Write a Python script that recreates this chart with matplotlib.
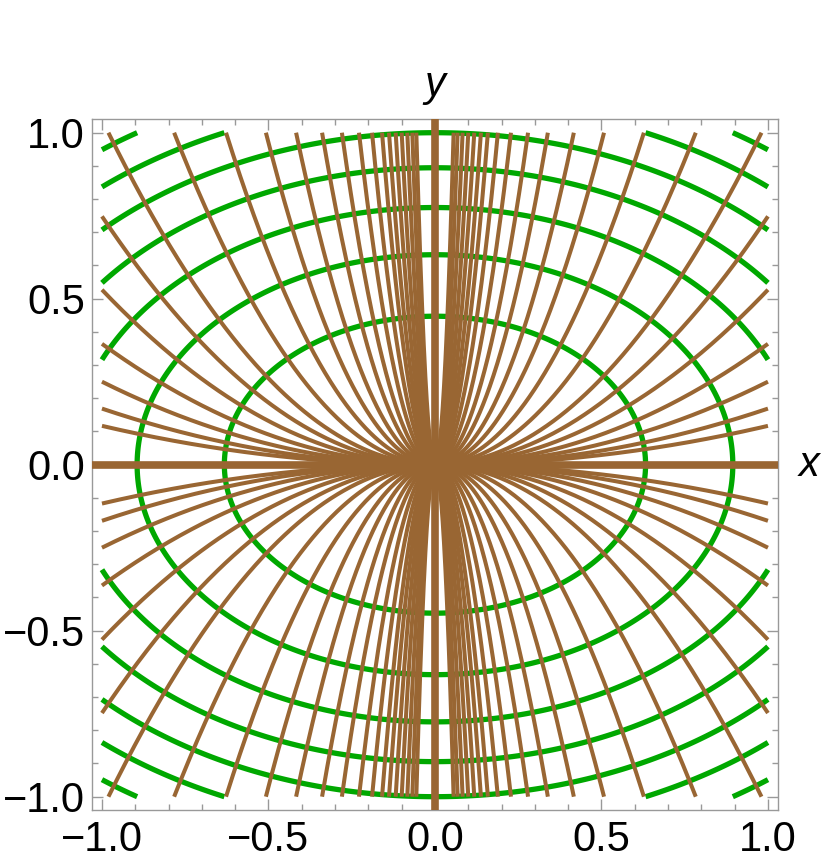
import numpy as np
import matplotlib.pyplot as plt
from matplotlib.ticker import MultipleLocator

# levels of x^2 + 2 y^2 (green ellipses)
ellipse_levels = [0.4, 0.8, 1.2, 1.6, 2.0, 2.4, 2.8]
# coefficients k of the brown trajectories y = k x^2
parabola_k = [0.117, 0.169, 0.25, 0.364, 0.527, 0.748, 1.04, 1.63, 2.54, 3.88,
              5.75, 8.7, 12.8, 19.2, 28.0, 39.6, 52.5, 71.8, 100.0, 145.0,
              216.0, 319.0]
xticks = [-1.0, -0.5, 0.0, 0.5, 1.0]
yticks = [-1.0, -0.5, 0.0, 0.5, 1.0]
ticklabels = ['\u22121.0', '\u22120.5', '0.0', '0.5', '1.0']

green = '#00a800'
brown = '#996633'

plt.rcParams['font.family'] = ['Liberation Sans', 'DejaVu Sans']

fig = plt.figure(figsize=(8.22, 8.66), dpi=100)
ax = fig.add_axes([0.1119, 0.0647, 0.8345, 0.7974])

# green ellipses
g = np.linspace(-1, 1, 801)
X, Y = np.meshgrid(g, g)
ax.contour(X, Y, X**2 + 2 * Y**2, levels=ellipse_levels,
           colors=green, linewidths=3.8, zorder=2)

# axes (k = 0 and k = infinity)
ax.axhline(0, color=brown, lw=5.5, zorder=3)
ax.axvline(0, color=brown, lw=5.5, zorder=3)

# brown parabolas y = +-k x^2
for k in parabola_k:
    xm = min(1.0, 1.0 / np.sqrt(k))
    xs = np.linspace(-xm, xm, 600)
    for s in (1, -1):
        ax.plot(xs, s * k * xs**2, color=brown, lw=2.9,
                solid_capstyle='butt', zorder=4)

ax.set_xlim(-1.03, 1.03)
ax.set_ylim(-1.04, 1.04)
ax.set_xticks(xticks)
ax.set_yticks(yticks)
ax.set_xticklabels(ticklabels)
ax.set_yticklabels(ticklabels)
ax.xaxis.set_minor_locator(MultipleLocator(0.1))
ax.yaxis.set_minor_locator(MultipleLocator(0.1))
ax.tick_params(which='both', direction='in', top=True, right=True,
               color='#999999', width=1.0)
ax.tick_params(which='major', length=8, labelsize=30)
ax.tick_params(axis='y', which='major', pad=5)
ax.tick_params(axis='x', which='major', pad=7)
ax.tick_params(which='minor', length=4.5)
for sp in ax.spines.values():
    sp.set_color('#999999')
    sp.set_linewidth(1.0)

ax.text(1.03, 0.0, 'x', transform=ax.get_yaxis_transform(), fontsize=30,
        style='italic', ha='left', va='center')
ax.text(0.0, 1.05, 'y', transform=ax.get_xaxis_transform(), fontsize=30,
        style='italic', ha='center', va='center')

fig.savefig('out.png', dpi=100)
